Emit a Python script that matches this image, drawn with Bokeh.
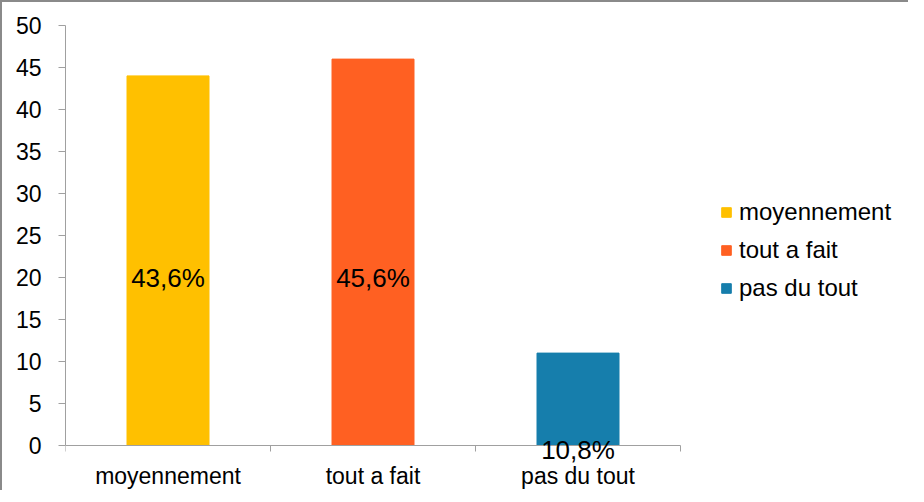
from bokeh.plotting import figure
from bokeh.models import ColumnDataSource, FixedTicker, Label, Legend, LegendItem, Range1d
from bokeh.embed import file_html
from bokeh.resources import INLINE

categories = ["moyennement", "tout a fait", "pas du tout"]
values = [44, 46, 11]
labels = ["43,6%", "45,6%", "10,8%"]
label_y = [20, 20, -0.5]
colors = ["#FFC000", "#FF6022", "#167EAC"]
y_ticks = list(range(0, 51, 5))
y_max = 50

FONT = "Liberation Sans"

# layout (pixels)
PLOT_W, PLOT_H = 908, 490
BORDER_L, BORDER_T = 63, 23
AXIS_W, AXIS_H = 615, 420   # length of the drawn x and y axes
LEGEND_X, LEGEND_BOTTOM = 655, 278  # legend position relative to the axes' top-left

n = len(categories)
x = [i + 0.5 for i in range(n)]

# The frame spans the whole figure right of / below the axes, so that texts drawn
# outside the axes (legend, labels below 0) are not clipped.
frame_w = PLOT_W - BORDER_L
frame_h = PLOT_H - BORDER_T
x_end = n * frame_w / AXIS_W
y_start = -y_max * (frame_h - AXIS_H) / AXIS_H

p = figure(width=PLOT_W, height=PLOT_H, x_range=Range1d(0, x_end),
           y_range=Range1d(y_start, y_max), output_backend="svg", toolbar_location=None,
           min_border_left=BORDER_L, min_border_right=0, min_border_top=BORDER_T,
           min_border_bottom=0)
p.styles = {"border-top": "2px solid #8a8a8a", "border-left": "2px solid #8a8a8a"}

items = []
for xi, cat, val, col in zip(x, categories, values, colors):
    src = ColumnDataSource(dict(x=[xi], top=[val]))
    r = p.vbar(x="x", top="top", bottom=0, width=0.4, color=col, source=src)
    items.append(LegendItem(label=cat, renderers=[r]))

for xi, lab, ly in zip(x, labels, label_y):
    p.add_layout(Label(x=xi, y=ly, text=lab, text_align="center",
                       text_baseline="middle", text_font=FONT, text_font_size="26px",
                       text_color="#000000"))

p.xgrid.visible = False
p.ygrid.visible = False
p.outline_line_color = None

# y axis
p.yaxis.ticker = FixedTicker(ticks=y_ticks)
p.yaxis.bounds = (0, y_max)
p.yaxis.axis_line_color = "#a0a0a0"
p.yaxis.major_tick_line_color = "#a0a0a0"
p.yaxis.major_tick_out = 7
p.yaxis.major_tick_in = 0
p.yaxis.minor_tick_line_color = None
p.yaxis.major_label_standoff = 17
p.yaxis.major_label_text_font = FONT
p.yaxis.major_label_text_font_size = "23px"
p.yaxis.major_label_text_color = "#000000"

# x axis, drawn at y = 0
p.xaxis.fixed_location = 0
p.xaxis.bounds = (0, n)
p.xaxis.ticker = FixedTicker(ticks=x, minor_ticks=list(range(n + 1)))
p.xaxis.major_label_overrides = {xi: c for xi, c in zip(x, categories)}
p.xaxis.axis_line_color = "#a0a0a0"
p.xaxis.major_tick_line_color = None
p.xaxis.minor_tick_line_color = "#a0a0a0"
p.xaxis.minor_tick_out = 6
p.xaxis.minor_tick_in = 0
p.xaxis.major_label_standoff = 11
p.xaxis.major_label_text_font = FONT
p.xaxis.major_label_text_font_size = "23px"
p.xaxis.major_label_text_color = "#000000"

leg = Legend(items=items, location=(LEGEND_X, frame_h - LEGEND_BOTTOM), orientation="vertical",
             border_line_color=None, background_fill_alpha=0, padding=0, margin=0,
             spacing=8, glyph_width=12, glyph_height=12, label_height=30,
             label_standoff=7, label_text_font=FONT, label_text_font_size="24px",
             label_text_color="#000000")
p.add_layout(leg, "center")

open("out.html", "w").write(file_html(p, INLINE))
